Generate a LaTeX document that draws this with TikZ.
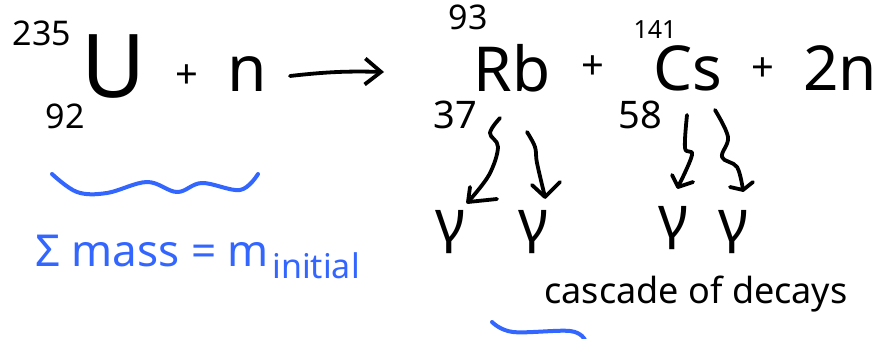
\documentclass[tikz,border=0pt]{standalone}
\usepackage{fontspec}
\setmainfont{Noto Sans}
\usetikzlibrary{arrows.meta}
\definecolor{inkblue}{RGB}{51,102,255}
\tikzset{
  ink/.style={line width=3.8pt, line cap=round, line join=round, black},
  blueink/.style={line width=4pt, line cap=round, line join=round, inkblue},
  txt/.style={inner sep=0pt, black},
  btxt/.style={inner sep=0pt, text=inkblue},
}
\begin{document}
\begin{tikzpicture}[x=1pt,y=-1pt]
\useasboundingbox (0,0) rectangle (888,339);
% left side
\node[txt, font=\fontsize{34}{34}\selectfont] (a235) at (42,33) {235};
\node[txt, font=\fontsize{88}{88}\selectfont] (U) at (114,67) {U};
\node[txt, font=\fontsize{34}{34}\selectfont] (z92) at (65,116) {92};
\node[txt, font=\fontsize{40}{40}\selectfont] (p1) at (187,77) {+};
\node[txt, font=\fontsize{64}{64}\selectfont] (n1) at (247,74) {n};
\coordinate (arS) at (290,76);
\coordinate (arE) at (384,72);
\draw[ink, -{Straight Barb[length=16pt,width=26pt,line width=3.8pt]}] (arS) to[bend left=4] (arE);
% right side
\node[txt, font=\fontsize{34}{34}\selectfont] (a93) at (468,17) {93};
\node[txt, font=\fontsize{62}{62}\selectfont] (Rb) at (512,68) {Rb};
\node[txt, font=\fontsize{40}{40}\selectfont] (p2) at (593,68) {+};
\node[txt, font=\fontsize{25}{25}\selectfont] (a141) at (655,30) {141};
\node[txt, font=\fontsize{62}{62}\selectfont] (Cs) at (688,68) {Cs};
\node[txt, font=\fontsize{40}{40}\selectfont] (p3) at (763,70) {+};
\node[txt, font=\fontsize{62}{62}\selectfont] (n2) at (840,68) {2n};
\node[txt, font=\fontsize{38}{38}\selectfont] (z37) at (455,115) {37};
\node[txt, font=\fontsize{38}{38}\selectfont] (z58) at (640,115) {58};
% gammas
\node[txt, font=\fontsize{58}{58}\selectfont] (g1) at (450,232) {γ};
\node[txt, font=\fontsize{58}{58}\selectfont] (g2) at (533,232) {γ};
\node[txt, font=\fontsize{58}{58}\selectfont] (g3) at (673,228) {γ};
\node[txt, font=\fontsize{58}{58}\selectfont] (g4) at (733,232) {γ};
% wavy decay arrows
\coordinate (t1) at (468,202);
\coordinate (t2) at (545,197);
\coordinate (t3) at (678,187);
\coordinate (t4) at (743,190);
\draw[ink] plot[smooth, tension=0.6] coordinates {(500,118) (490,133) (498,147) (489,175) (t1)};
\draw[ink] (470,187) -- (t1) -- (497,199);
\draw[ink] plot[smooth, tension=0.6] coordinates {(527,132) (535,147) (537,163) (t2)};
\draw[ink] (532,185) -- (t2) -- (560,182);
\draw[ink] plot[smooth, tension=0.6] coordinates {(687,115) (685,148) (692,155) (t3)};
\draw[ink] (672,175) -- (t3) -- (693,182);
\draw[ink] plot[smooth, tension=0.6] coordinates {(715,110) (728,137) (722,157) (737,167) (t4)};
\draw[ink] (730,187) -- (t4) -- (753,182);
% blue brace
\draw[blueink] plot[smooth, tension=0.6] coordinates {(52,174) (77,192) (107,193) (147,182) (177,192) (202,183) (240,190) (258,174)};
\node[btxt, font=\fontsize{44}{44}\selectfont, anchor=base west] (sum) at (35,266) {Σ mass = m};
\node[btxt, font=\fontsize{34}{34}\selectfont, anchor=base west] (ini) at ([xshift=3pt,yshift=-12pt]sum.base east) {initial};
% cascade
\node[txt, font=\fontsize{36}{36}\selectfont] (casc) at (696,294) {cascade of decays};
\draw[blueink] plot[smooth, tension=0.6] coordinates {(492,322) (513,332) (570,331) (585,340)};
\end{tikzpicture}
\end{document}
